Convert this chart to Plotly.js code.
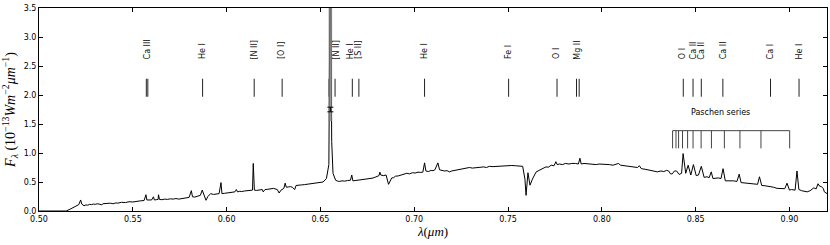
<!DOCTYPE html>
<html>
<head>
<meta charset="utf-8">
<script src="https://cdn.plot.ly/plotly-3.0.1.min.js"></script>
<style>html,body{margin:0;padding:0;background:#fff;}#chart{width:830px;height:245px;}</style>
</head>
<body>
<div id="chart"></div>
<script>
// ---- spectrum (wavelength in micron, flux in 1e-13 W m^-2 um^-1) ----
const wavelength = [
0.500,0.505,0.510,0.5145,0.5165,0.5185,0.5200,0.5212,0.5222,0.5228,0.5240,0.5250,0.5260,0.5270,0.5280,0.5290,0.5300,0.5310,0.5320,0.5335,
0.5340,0.5360,0.5370,0.5380,0.5395,0.5410,0.5420,0.5440,0.5460,0.5480,0.5500,0.5520,0.5540,0.5560,0.5570,0.5575,0.5590,0.5600,0.5610,0.5615,
0.5625,0.5635,0.5637,0.5642,0.5655,0.5670,0.5685,0.5700,0.5715,0.5730,0.5745,0.5760,0.5780,0.5800,0.5812,0.5818,0.5830,0.5840,0.5860,0.5870,
0.5880,0.5890,0.5900,0.5915,0.5930,0.5940,0.5950,0.5960,0.5970,0.5975,0.5990,0.6000,0.6015,0.6030,0.6044,0.6052,0.6058,0.6070,0.6080,0.6095,
0.6110,0.6125,0.6138,0.6142,0.6148,0.6160,0.6170,0.6180,0.6190,0.6195,0.6205,0.6220,0.6230,0.6250,0.6270,0.6280,0.6290,0.6305,0.6312,0.6318,
0.6330,0.6340,0.6350,0.6363,0.6370,0.6385,0.6400,0.6415,0.6430,0.6445,0.6460,0.6475,0.6490,0.6514,0.6532,0.6545,0.6553,0.6560,0.6567,0.6581,
0.6592,0.6603,0.6615,0.6630,0.6645,0.6660,0.6667,0.6673,0.6685,0.6700,0.6715,0.6730,0.6745,0.6760,0.6775,0.6790,0.6800,0.6812,0.6817,0.6822,
0.6835,0.6850,0.6863,0.6870,0.6880,0.6890,0.6900,0.6915,0.6930,0.6945,0.6960,0.6975,0.6990,0.7005,0.7020,0.7035,0.7046,0.7055,0.7062,0.7075,
0.7090,0.7100,0.7110,0.7126,0.7135,0.7148,0.7160,0.7175,0.7188,0.7200,0.7220,0.7235,0.7250,0.7260,0.7275,0.7294,0.7310,0.7330,0.7350,0.7370,
0.7385,0.7400,0.7420,0.7436,0.7455,0.7470,0.7485,0.7501,0.7520,0.7540,0.7560,0.7578,0.7590,0.7596,0.7606,0.7617,0.7630,0.7649,0.7665,0.7680,
0.7690,0.7702,0.7715,0.7730,0.7745,0.7755,0.7762,0.7775,0.7790,0.7805,0.7825,0.7840,0.7860,0.7875,0.7883,0.7890,0.7905,0.7930,0.7950,0.7970,
0.7985,0.8003,0.8020,0.8040,0.8060,0.8075,0.8088,0.8100,0.8120,0.8140,0.8154,0.8170,0.8190,0.8200,0.8210,0.8230,0.8250,0.8270,0.8296,0.8315,
0.8330,0.8345,0.8356,0.8366,0.8375,0.8387,0.8398,0.8412,0.8425,0.8433,0.8447,0.8460,0.8474,0.8488,0.8503,0.8515,0.8530,0.8545,0.8560,0.8572,
0.8583,0.8592,0.8605,0.8620,0.8635,0.8646,0.8658,0.8680,0.8700,0.8720,0.8732,0.8742,0.8760,0.8780,0.8800,0.8815,0.8830,0.8840,0.8852,0.8870,
0.8885,0.8900,0.8915,0.8934,0.8960,0.8975,0.8987,0.9000,0.9010,0.9020,0.9030,0.9040,0.9050,0.9065,0.9080,0.9094,0.9110,0.9120,0.9130,0.9142,
0.9152,0.9160,0.9170,0.9180,0.9186,0.9200];
const flux = [
0.00,0.00,0.00,0.00,0.03,0.07,0.10,0.11,0.19,0.12,0.09,0.105,0.10,0.115,0.11,0.12,0.115,0.125,0.12,0.105,
0.125,0.13,0.12,0.135,0.125,0.14,0.135,0.15,0.145,0.16,0.155,0.17,0.175,0.18,0.28,0.19,0.185,0.19,0.245,0.19,
0.195,0.20,0.28,0.20,0.195,0.205,0.20,0.21,0.205,0.215,0.205,0.21,0.22,0.235,0.35,0.245,0.24,0.25,0.27,0.36,
0.25,0.185,0.25,0.30,0.285,0.29,0.285,0.30,0.49,0.30,0.305,0.31,0.315,0.325,0.33,0.37,0.33,0.34,0.335,0.345,
0.35,0.355,0.36,0.82,0.36,0.355,0.36,0.37,0.37,0.33,0.37,0.375,0.38,0.39,0.37,0.31,0.36,0.39,0.48,0.41,
0.415,0.42,0.41,0.37,0.44,0.44,0.45,0.455,0.46,0.465,0.47,0.475,0.48,0.50,0.56,0.80,5.00,1.20,0.65,0.53,
0.515,0.51,0.52,0.515,0.525,0.53,0.62,0.52,0.525,0.53,0.535,0.54,0.55,0.56,0.565,0.58,0.59,0.61,0.67,0.62,
0.61,0.62,0.46,0.52,0.57,0.575,0.60,0.605,0.62,0.625,0.65,0.64,0.66,0.655,0.67,0.665,0.67,0.83,0.69,0.68,
0.70,0.695,0.71,0.83,0.71,0.70,0.69,0.695,0.675,0.69,0.70,0.72,0.715,0.73,0.735,0.75,0.74,0.75,0.755,0.76,
0.75,0.77,0.765,0.77,0.775,0.78,0.775,0.79,0.785,0.78,0.775,0.77,0.55,0.27,0.66,0.445,0.55,0.67,0.70,0.72,
0.74,0.76,0.755,0.79,0.78,0.85,0.80,0.81,0.80,0.82,0.81,0.82,0.82,0.81,0.91,0.81,0.82,0.81,0.815,0.80,
0.81,0.81,0.80,0.80,0.79,0.81,0.82,0.79,0.78,0.77,0.76,0.765,0.75,0.78,0.73,0.72,0.71,0.70,0.675,0.69,
0.68,0.70,0.69,0.64,0.64,0.69,0.69,0.63,0.65,0.99,0.65,0.79,0.62,0.80,0.61,0.62,0.77,0.58,0.59,0.575,
0.675,0.56,0.565,0.57,0.56,0.73,0.52,0.525,0.52,0.51,0.635,0.49,0.485,0.475,0.47,0.465,0.46,0.59,0.44,0.435,
0.43,0.42,0.41,0.39,0.38,0.385,0.48,0.36,0.37,0.37,0.36,0.69,0.37,0.35,0.345,0.33,0.35,0.37,0.40,0.38,
0.47,0.43,0.42,0.39,0.33,0.30];

// ---- identified lines ----
const markerWavelengths = [0.5572,0.5580,0.5872,0.6147,0.6296,0.6546,0.6578,0.6670,0.6705,0.7055,0.7503,0.7761,0.7865,0.7879,0.8434,0.8486,0.8530,0.8645,0.8899,0.9051];
const lineLabels = ["Ca III","He I","[N II]","[O I]","[N II]","He I","[S II]","He I","Fe I","O I","Mg II","O I","Ca II","Ca II","Ca II","Ca I","He I"];
const labelWavelengths = [0.5576,0.5872,0.6147,0.6296,0.6585,0.6662,0.6706,0.7055,0.7503,0.7761,0.7872,0.8434,0.8486,0.8530,0.8645,0.8899,0.9051];

// ---- Paschen series ----
const paschenWavelengths = [0.8377,0.8395,0.8409,0.8430,0.8457,0.8486,0.8529,0.8584,0.8653,0.8736,0.8848,0.9001];
const paschenLabel = "Paschen series";
const halphaWavelength = 0.6553;

// ---- axes ----
const xTicks = [0.50,0.55,0.60,0.65,0.70,0.75,0.80,0.85,0.90];
const yTicks = [0.0,0.5,1.0,1.5,2.0,2.5,3.0,3.5];

// style constants
const MARK_LO = 1.97, MARK_HI = 2.28, LABEL_Y = 2.58;
const PA_TOP = 1.385, PA_BOT = 1.08, PA_TEXT_Y = 1.70, PA_TEXT_X = 0.8633;

function segs(xs, lo, hi){
  const X=[],Y=[];
  xs.forEach(v=>{X.push(v,v,null);Y.push(lo,hi,null);});
  return {X,Y};
}
const mk = segs(markerWavelengths, MARK_LO, MARK_HI);
const pa = segs(paschenWavelengths, PA_BOT, PA_TOP);
pa.X.push(paschenWavelengths[0], paschenWavelengths[paschenWavelengths.length-1]);
pa.Y.push(PA_TOP, PA_TOP);

const capHalf = 0.0016;
const traces = [
  {x: wavelength, y: flux, type:'scatter', mode:'lines', line:{color:'#000', width:1}, hoverinfo:'skip'},
  {x: mk.X, y: mk.Y, type:'scatter', mode:'lines', line:{color:'#222', width:1}, hoverinfo:'skip'},
  {x: [halphaWavelength, halphaWavelength], y:[1.55, 3.6], type:'scatter', mode:'lines', line:{color:'rgba(125,125,125,0.8)', width:3.5}, hoverinfo:'skip'},
  {x: [halphaWavelength-capHalf, halphaWavelength+capHalf, null, halphaWavelength-capHalf, halphaWavelength+capHalf, null, halphaWavelength, halphaWavelength],
   y: [1.79, 1.79, null, 1.71, 1.71, null, 1.71, 1.79], type:'scatter', mode:'lines', line:{color:'#000', width:1}, hoverinfo:'skip'},
  {x: pa.X, y: pa.Y, type:'scatter', mode:'lines', line:{color:'#444', width:1}, hoverinfo:'skip'}
];

const annotations = lineLabels.map((t,i)=>({
  x: labelWavelengths[i], y: LABEL_Y, xref:'x', yref:'y', text: t, showarrow:false,
  textangle:-90, xanchor:'center', yanchor:'bottom', font:{family:'DejaVu Sans', size:8, color:'#111'}
}));
annotations.push({
  x: PA_TEXT_X, y: PA_TEXT_Y, xref:'x', yref:'y',
  text: paschenLabel, showarrow:false, xanchor:'center', yanchor:'middle',
  font:{family:'DejaVu Sans', size:8, color:'#000'}
});

const axisCommon = {showgrid:false, zeroline:false, showline:true, linecolor:'#000', linewidth:1,
  mirror:'ticks', ticks:'inside', ticklen:4, tickwidth:1, tickcolor:'#000',
  tickfont:{family:'DejaVu Sans', size:8, color:'#000'}};

const layout = {
  width:830, height:245, margin:{l:39, r:3, t:8, b:34},
  paper_bgcolor:'#fff', plot_bgcolor:'#fff', showlegend:false,
  xaxis: Object.assign({}, axisCommon, {range:[0.5,0.92], tickvals:xTicks, ticktext:xTicks.map(v=>v.toFixed(2)),
    title:{text:'<i>λ</i>(<i>μm</i>)', font:{family:'Liberation Serif', size:13, color:'#000'}, standoff:3}}),
  yaxis: Object.assign({}, axisCommon, {range:[0,3.5], tickvals:yTicks, ticktext:yTicks.map(v=>v.toFixed(1)),
    title:{text:'<i>F</i><sub><i>λ</i></sub> (10<sup>−13</sup><i>Wm</i><sup>−2</sup><i>μm</i><sup>−1</sup>)', font:{family:'Liberation Serif', size:14, color:'#000'}, standoff:4}}),
  annotations: annotations
};

Plotly.newPlot('chart', traces, layout, {staticPlot:true, displayModeBar:false});
</script>
</body>
</html>
